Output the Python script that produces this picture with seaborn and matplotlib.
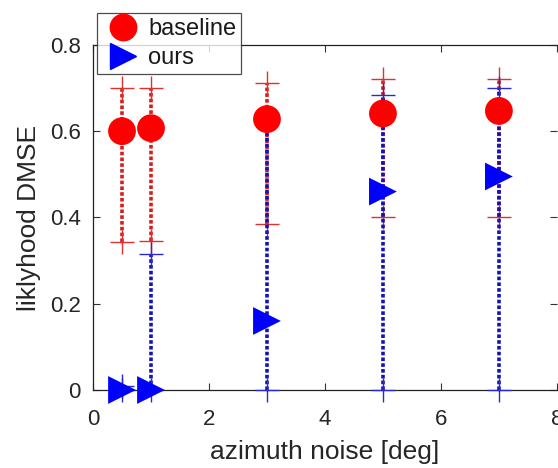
import numpy as np
import pandas as pd
import matplotlib
matplotlib.use("Agg")
import matplotlib.pyplot as plt
from matplotlib.lines import Line2D
import seaborn as sns

noise = [0.5, 1, 3, 5, 7]
base_y = [0.60, 0.607, 0.628, 0.641, 0.647]
base_hi = [0.70, 0.70, 0.712, 0.72, 0.72]
base_lo = [0.343, 0.345, 0.385, 0.40, 0.40]
ours_y = [0.0, 0.0, 0.16, 0.46, 0.495]
ours_hi = [0.01, 0.315, 0.63, 0.685, 0.70]
ours_lo = [0.0, 0.0, 0.0, 0.0, 0.0]
xticks = [0, 2, 4, 6, 8]
yticks = [0, 0.2, 0.4, 0.6, 0.8]
ytick_labels = ["0", "0.2", "0.4", "0.6", "0.8"]

sns.set_theme(style="white")
plt.rcParams['font.family'] = ['Liberation Sans', 'DejaVu Sans']

fig = plt.figure(figsize=(5.58, 4.68), dpi=100)
ax = fig.add_axes([0.1667, 0.1667, 0.8313, 0.7373])

df = pd.DataFrame({
    "x": noise * 2,
    "y": base_y + ours_y,
    "method": ["baseline"] * 5 + ["ours"] * 5,
})

# error bars (dotted stems with '+' caps)
for x, lo, hi in zip(noise, base_lo, base_hi):
    ax.plot([x, x], [lo, hi], color="#d81c1c", ls=(0, (1.0, 0.6)), lw=2.6, zorder=2, clip_on=False)
    ax.plot([x, x], [lo, hi], color="#e03030", ls="none", marker="+", ms=17, mew=1.0,
            zorder=2, clip_on=False)
for x, lo, hi in zip(noise, ours_lo, ours_hi):
    ax.plot([x, x], [lo, hi], color="#1414b4", ls=(0, (1.0, 0.6)), lw=2.6, zorder=3, clip_on=False)
    ax.plot([x, x], [lo, hi], color="#2a2ad0", ls="none", marker="+", ms=17, mew=1.0,
            zorder=3, clip_on=False)

sns.scatterplot(data=df, x="x", y="y", hue="method", style="method",
                palette={"baseline": "#ff0000", "ours": "#0000ff"},
                markers={"baseline": "o", "ours": ">"},
                s=400, linewidth=0, ax=ax, zorder=4, legend=False, clip_on=False)

ax.set_xlim(0, 8)
ax.set_ylim(0, 0.8)
ax.set_xticks(xticks)
ax.set_yticks(yticks)
ax.set_xticklabels([str(t) for t in xticks])
ax.set_yticklabels(ytick_labels)
ax.tick_params(direction="in", length=5, width=0.8, labelsize=16, color="#333333",
               labelcolor="#262626", top=True, right=True, bottom=True, left=True)
ax.tick_params(axis="x", pad=14)
ax.tick_params(axis="y", pad=9)
ax.set_xlabel("azimuth noise [deg]", fontsize=19, labelpad=7, color="#262626")
ax.set_ylabel("liklyhood DMSE", fontsize=19, labelpad=6, color="#262626")
for s in ["left", "bottom", "top"]:
    ax.spines[s].set_color("#222222")
    ax.spines[s].set_linewidth(0.9)
ax.spines["right"].set_visible(False)

handles = [Line2D([], [], marker="o", color="#ff0000", ls="none", ms=19),
           Line2D([], [], marker=">", color="#0000ff", ls="none", ms=19)]
leg = ax.legend(handles, ["baseline", "ours"], loc="upper left",
                bbox_to_anchor=(0.009, 1.092), frameon=True, fontsize=17,
                handletextpad=0.15, borderpad=0.2, labelspacing=0.3,
                handlelength=1.8, fancybox=False, borderaxespad=0)
leg.get_frame().set_edgecolor("#222222")
leg.get_frame().set_linewidth(0.9)
for t in leg.get_texts():
    t.set_color("#1a1a1a")

fig.savefig("out.png", dpi=100)
